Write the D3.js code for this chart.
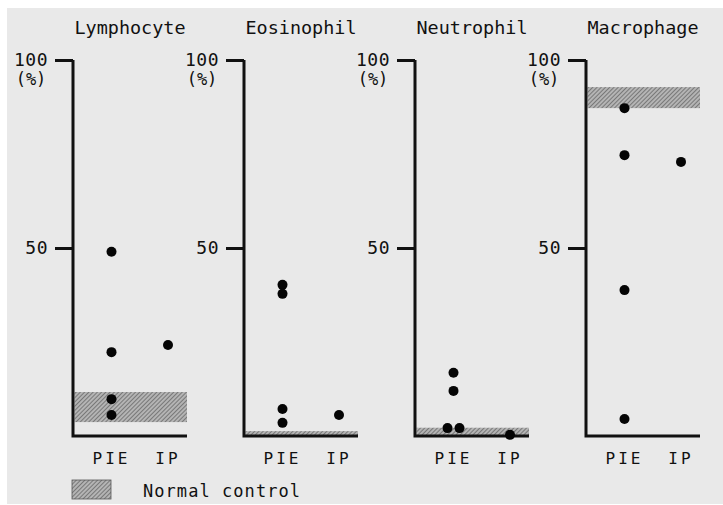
<!DOCTYPE html>
<html><head><meta charset="utf-8">
<script src="https://cdn.jsdelivr.net/npm/d3@7"></script>
<style>
html,body{margin:0;padding:0;background:#fff;}
svg{display:block;}
text{font-family:"DejaVu Sans Mono",monospace;fill:#111;}
</style></head>
<body>
<script>
// ---- data ----
const panels = ["Lymphocyte", "Eosinophil", "Neutrophil", "Macrophage"];
const groups = ["PIE", "IP"];
const pieValues = [
  [49, 22.3, 9.8, 5.6],        // Lymphocyte
  [40.2, 37.8, 7.2, 3.5],      // Eosinophil
  [16.8, 12, 2.1, 2.1],        // Neutrophil
  [87.2, 74.7, 38.8, 4.5]      // Macrophage
];
const ipValues = [
  [24.2],
  [5.6],
  [0.3],
  [72.9]
];
const normalLow  = [3.7, 0, 0, 87.2];
const normalHigh = [11.7, 1.3, 2.2, 92.8];
const yTicks = [50, 100];
const legendLabel = "Normal control";

// ---- layout ----
const W = 723, H = 505;
const svg = d3.select("body").append("svg").attr("width", W).attr("height", H);

// background paper
svg.append("rect").attr("x", 7).attr("y", 8).attr("width", W - 7).attr("height", H - 9).attr("fill", "#e9e9e9");

const defs = svg.append("defs");
const pat = defs.append("pattern").attr("id", "hatch").attr("patternUnits", "userSpaceOnUse")
  .attr("width", 3).attr("height", 3).attr("patternTransform", "rotate(45)");
pat.append("rect").attr("width", 3).attr("height", 3).attr("fill", "#b4b4b4");
pat.append("line").attr("x1", 0).attr("y1", 0).attr("x2", 0).attr("y2", 3)
  .attr("stroke", "#505050").attr("stroke-width", 1.2);

const panelX = d3.scaleBand().domain(panels).range([73, 73 + 4 * 171]).paddingInner(0).paddingOuter(0).align(0);
const plotW = 114;
const y = d3.scaleLinear().domain([0, 100]).range([436, 60]);
const xCat = d3.scalePoint().domain(groups).range([38.5, 95]);

panels.forEach((name, i) => {
  const x0 = panelX(name);
  const g = svg.append("g").attr("transform", `translate(${x0},0)`);

  // title
  g.append("text").attr("x", plotW / 2).attr("y", 34).attr("text-anchor", "middle")
    .attr("font-size", 18).attr("textLength", 111).attr("lengthAdjust", "spacingAndGlyphs").text(name);

  // normal band
  g.append("rect").attr("x", 1.5).attr("width", plotW - 1.5)
    .attr("y", y(normalHigh[i])).attr("height", y(normalLow[i]) - y(normalHigh[i]))
    .attr("fill", "url(#hatch)");

  // y axis ticks & labels
  const ax = d3.axisLeft(y).tickValues(yTicks).tickSize(18).tickPadding(7).tickFormat(d3.format("d"));
  const axG = g.append("g").call(ax);
  axG.select(".domain").remove();
  axG.selectAll(".tick line").attr("stroke", "#111").attr("stroke-width", 3);
  axG.selectAll(".tick text").attr("font-size", 18).attr("letter-spacing", 0.5).attr("fill", "#111")
    .attr("font-family", "DejaVu Sans Mono, monospace");
  g.append("text").attr("x", -42).attr("y", y(100) + 25).attr("text-anchor", "middle")
    .attr("font-size", 17).text("(%)");

  // axes frame
  g.append("path").attr("d", `M0,${y(100)}V${y(0)}H${plotW}`)
    .attr("fill", "none").attr("stroke", "#111").attr("stroke-width", 3);

  // category labels
  g.selectAll(".cat").data(groups).enter().append("text").attr("class", "cat")
    .attr("x", d => xCat(d)).attr("y", 464).attr("text-anchor", "middle")
    .attr("font-size", 16).attr("letter-spacing", 3).text(d => d);

  // dots
  const series = [pieValues[i], ipValues[i]];
  series.forEach((vals, k) => {
    const cx = xCat(groups[k]);
    const pts = vals.map((v, j) => {
      const dupIdx = vals.filter((w, m) => m < j && Math.abs(w - v) < 0.5).length;
      const dupCount = vals.filter(w => Math.abs(w - v) < 0.5).length;
      const off = dupCount > 1 ? (dupIdx - (dupCount - 1) / 2) * 12 : 0;
      return { v, off };
    });
    g.selectAll(null).data(pts).enter().append("circle")
      .attr("cx", d => cx + d.off).attr("cy", d => y(d.v)).attr("r", 5).attr("fill", "#050505");
  });
});

// legend
svg.append("rect").attr("x", 72).attr("y", 480).attr("width", 39).attr("height", 19)
  .attr("fill", "url(#hatch)").attr("stroke", "#555").attr("stroke-width", 0.8);
svg.append("text").attr("x", 143).attr("y", 497).attr("font-size", 17)
  .attr("textLength", 157).attr("lengthAdjust", "spacing").text(legendLabel);
</script>
</body></html>
